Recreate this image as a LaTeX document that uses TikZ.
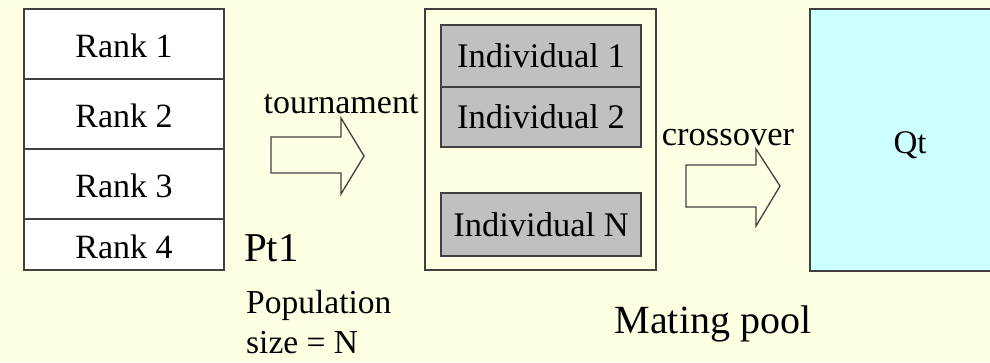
\documentclass[tikz,border=0pt]{standalone}
\usepackage{fontspec}
\setmainfont{Liberation Serif}
\newfontfamily\timesfont{Liberation Serif}
\definecolor{bgyellow}{RGB}{255,255,228}
\definecolor{poolgray}{RGB}{192,192,192}
\definecolor{qtcyan}{RGB}{204,255,255}
\definecolor{edge}{RGB}{64,64,64}
\tikzset{
  rankbox/.style={draw=edge, line width=1.3pt, fill=white, minimum width=200pt, inner sep=0pt, text height=28pt, font=\timesfont\fontsize{34}{40}\selectfont},
  indbox/.style={draw=edge, line width=1.3pt, fill=poolgray, minimum width=200pt, inner sep=0pt, font=\timesfont\fontsize{34.5}{40}\selectfont},
  lbl/.style={inner sep=0pt, font=\timesfont\fontsize{#1}{#1}\selectfont},
  blockarrow/.style={draw=edge, line width=1.3pt, fill=bgyellow, line join=miter}
}
\begin{document}
\begin{tikzpicture}[x=1pt,y=-1pt]
    \fill[bgyellow] (0,0) rectangle (990,362);
    \useasboundingbox (0,0) rectangle (990,362);
    % population Pt1
    \node[rankbox, minimum height=70pt] (rank1) at (124,44) {Rank 1};
    \node[rankbox, minimum height=70pt] (rank2) at (124,114) {Rank 2};
    \node[rankbox, minimum height=70pt] (rank3) at (124,184) {Rank 3};
    \node[rankbox, minimum height=51pt] (rank4) at (124,244.5) {Rank 4};
    \node[lbl=41, anchor=west] (pt) at (244,248) {Pt1};
    \node[lbl=33.5, anchor=base west] (pop) at (246,313) {Population};
    \node[lbl=33.5, anchor=base west] (size) at (246,353) {size = N};
    % tournament
    \node[lbl=34, anchor=base] (tour) at (341,113) {tournament};
    \draw[blockarrow] (271,137) -- (341,137) -- (341,118) -- (364,156) -- (341,194) -- (341,173) -- (271,173) -- cycle;
    % mating pool
    \node[draw=edge, line width=1.3pt, minimum width=231pt, minimum height=261pt, inner sep=0pt] (pool) at (540.5,139.5) {};
    \node[indbox, minimum height=62pt] (ind1) at (541,56) {Individual 1};
    \node[indbox, minimum height=60pt] (ind2) at (541,117) {Individual 2};
    \node[indbox, minimum height=63pt] (indN) at (541,224.5) {Individual N};
    \node[lbl=40, anchor=base] (mating) at (713,333) {Mating pool};
    % crossover
    \node[lbl=34.5, anchor=base] (cross) at (728,145) {crossover};
    \draw[blockarrow] (686,165) -- (756,165) -- (756,149) -- (780,186) -- (756,226) -- (756,207) -- (686,207) -- cycle;
    % offspring Qt
    \draw[edge, line width=1.3pt, fill=qtcyan] (810,9) rectangle (996,271);
    \node[lbl=33, anchor=base] (qt) at (910,153) {Qt};
\end{tikzpicture}
\end{document}
